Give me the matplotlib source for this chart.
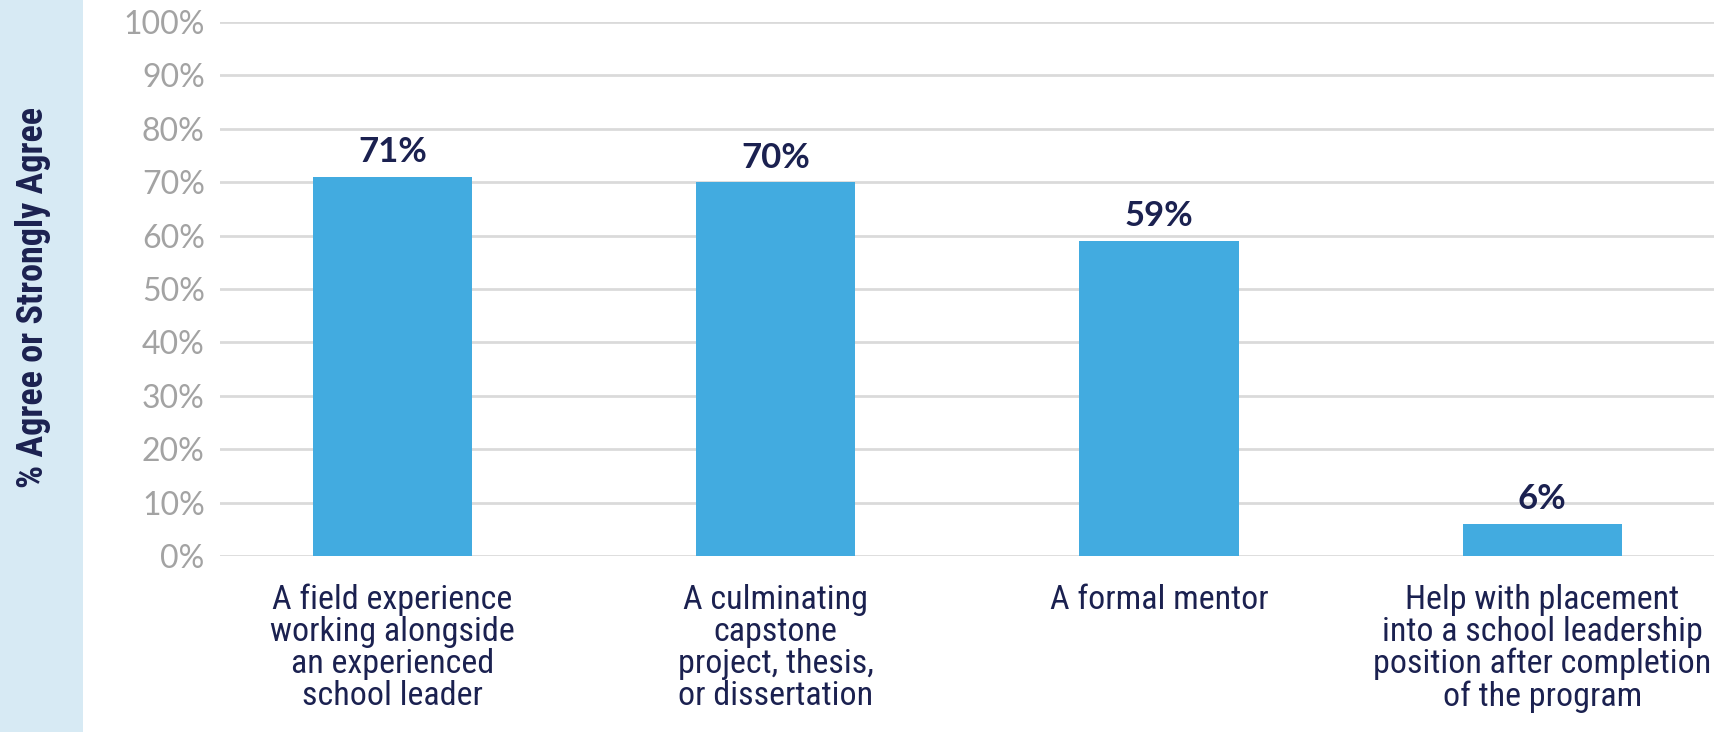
import matplotlib
matplotlib.use("Agg")
import matplotlib.pyplot as plt
from matplotlib.patches import Rectangle
from matplotlib import font_manager as fm

categories = [
    "A field experience\nworking alongside\nan experienced\nschool leader",
    "A culminating\ncapstone\nproject, thesis,\nor dissertation",
    "A formal mentor",
    "Help with placement\ninto a school leadership\nposition after completion\nof the program",
]
values = [71, 70, 59, 6]
value_labels = ["71%", "70%", "59%", "6%"]
yticks = [0, 10, 20, 30, 40, 50, 60, 70, 80, 90, 100]
ytick_labels = [f"{t}%" for t in yticks]
ylabel = "% Agree or Strongly Agree"

# pick a condensed family if available
names = {f.name for f in fm.fontManager.ttflist}
cond_fams = [n for n in ["Roboto Condensed", "DejaVu Sans Condensed",
                         "Liberation Sans Narrow", "Open Sans Condensed"] if n in names]
narrow = (cond_fams[:1] or []) + ["DejaVu Sans"]

W, H = 1714, 732
fig = plt.figure(figsize=(W / 100, H / 100), dpi=100)

fig.patches.append(Rectangle((0, 0), 83 / W, 1, transform=fig.transFigure,
                             facecolor="#d7eaf4", edgecolor="none", zorder=0))

left, right = 220 / W, 1.0
bottom, top = 1 - 556 / H, 1 - 22 / H
ax = fig.add_axes([left, bottom, right - left, top - bottom])

navy = "#1b2150"
bar_color = "#42abe0"

x = list(range(len(categories)))
ax.bar(x, values, width=0.416, color=bar_color, zorder=3)
ax.set_xlim(-0.45, 3.448)
ax.set_ylim(0, 100)

for xi, v, lab in zip(x, values, value_labels):
    ax.text(xi, v + 1.6, lab, ha="center", va="bottom", fontsize=25,
            fontweight="bold", color=navy, family=["Lato", "DejaVu Sans"], zorder=4)

ax.set_yticks(yticks)
ax.set_yticklabels(ytick_labels, fontsize=23, color="#a3a3a3",
                   family=["Lato", "DejaVu Sans"])
ax.yaxis.grid(True, color="#dadada", linewidth=2, zorder=0)
ax.set_axisbelow(True)
ax.tick_params(axis="y", length=0, pad=11)
ax.tick_params(axis="x", length=0, pad=20)
ax.set_xticks(x)
ax.set_xticklabels(categories, fontsize=24.5, color=navy, family=narrow,
                   fontstretch="condensed", linespacing=1.0, va="top")
for s in ax.spines.values():
    s.set_visible(False)

fig.text(33 / W, 1 - 297 / H, ylabel, rotation=90, ha="center", va="center",
         fontsize=26, fontweight="bold", color=navy, family=narrow,
         fontstretch="condensed")

fig.savefig("out.png", dpi=100)
